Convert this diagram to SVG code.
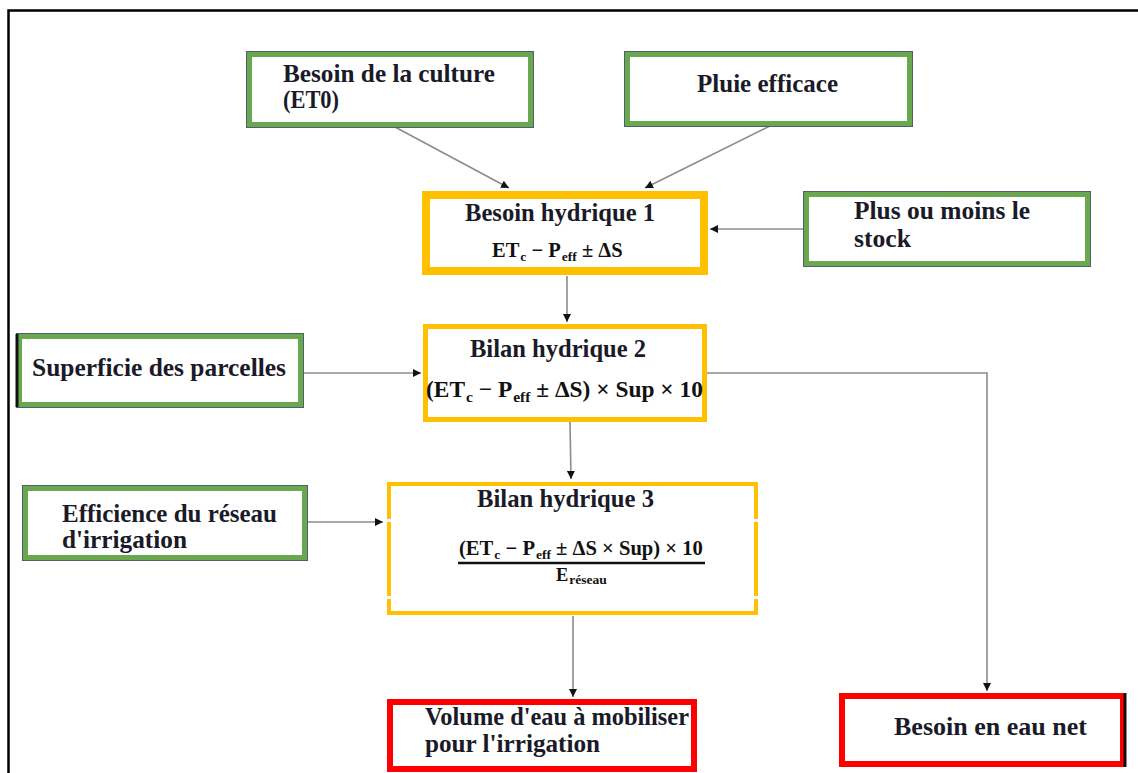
<svg xmlns="http://www.w3.org/2000/svg" width="1138" height="773" viewBox="0 0 1138 773">
<style>
.bg{fill:#ffffff}
.frame{fill:none;stroke:#000;stroke-width:2.5}
.green{fill:#fff;stroke:#6aa84f;stroke-width:5}
.gedge{fill:none;stroke:#4f5f6f;stroke-width:1}
.yellow{fill:#fff;stroke:#ffc000}
.red{fill:#fff;stroke:#ff0000}
.lbl{font-family:'Liberation Serif','Times New Roman',serif;font-weight:bold;font-size:25px;fill:#1a1a28}
.math{font-family:'Liberation Serif','Times New Roman',serif;font-weight:bold;fill:#111}
.conn{fill:none;stroke:#8c8c8c;stroke-width:1.6}
</style>
<defs>
<marker id="arr" markerUnits="userSpaceOnUse" markerWidth="10" markerHeight="10" refX="8" refY="4" orient="auto">
<path d="M0,0 L8,4 L0,8 Z" fill="#111"/>
</marker>
</defs>
<rect class="bg" x="0" y="0" width="1138" height="773"/>
<path class="frame" d="M8.5,773 V10.5 H1138"/>

<g id="connectors">
<line class="conn" x1="395" y1="127" x2="509" y2="188" marker-end="url(#arr)"/>
<line class="conn" x1="770" y1="126" x2="645" y2="188" marker-end="url(#arr)"/>
<line class="conn" x1="804" y1="229" x2="710" y2="229" marker-end="url(#arr)"/>
<line class="conn" x1="567" y1="276" x2="567" y2="322" marker-end="url(#arr)"/>
<line class="conn" x1="303" y1="373" x2="421" y2="373" marker-end="url(#arr)"/>
<path class="conn" d="M707,373 H987 V691" marker-end="url(#arr)"/>
<line class="conn" x1="570" y1="422" x2="571" y2="479" marker-end="url(#arr)"/>
<line class="conn" x1="307" y1="522" x2="383" y2="522" marker-end="url(#arr)"/>
<line class="conn" x1="573" y1="616" x2="573" y2="697" marker-end="url(#arr)"/>
</g>

<g id="besoin-culture">
<rect class="green" x="249.5" y="54.5" width="281" height="70"/>
<rect class="gedge" x="246.5" y="51.5" width="287" height="76"/>
<text class="lbl" x="283" y="82" textLength="212" lengthAdjust="spacingAndGlyphs">Besoin de la culture</text>
<text class="lbl" x="283" y="108" textLength="56" lengthAdjust="spacingAndGlyphs">(ET0)</text>
</g>

<g id="pluie-efficace">
<rect class="green" x="627.5" y="54.5" width="282" height="69"/>
<rect class="gedge" x="624.5" y="51.5" width="288" height="75"/>
<text class="lbl" x="697" y="92" textLength="141" lengthAdjust="spacingAndGlyphs">Pluie efficace</text>
</g>

<g id="besoin-hydrique-1">
<rect class="yellow" x="426" y="195" width="278" height="76" stroke-width="8"/>
<text class="lbl" x="465" y="221" textLength="190" lengthAdjust="spacingAndGlyphs">Besoin hydrique 1</text>
<text class="math" x="492" y="257" font-size="20.5">ET<tspan font-size="13.5" dx="1" dy="4">c</tspan><tspan dy="-4"> − P</tspan><tspan font-size="13.5" dx="1" dy="4">eff</tspan><tspan dy="-4"> ±  ΔS</tspan></text>
</g>

<g id="plus-ou-moins">
<rect class="green" x="806.5" y="194.5" width="281" height="69"/>
<rect class="gedge" x="803.5" y="191.5" width="287" height="75"/>
<text class="lbl" x="854" y="219" textLength="176" lengthAdjust="spacingAndGlyphs">Plus ou moins le</text>
<text class="lbl" x="854" y="247" textLength="57" lengthAdjust="spacingAndGlyphs">stock</text>
</g>

<g id="superficie">
<rect class="green" x="19.5" y="336.5" width="281" height="68"/>
<rect class="gedge" x="16.5" y="333.5" width="287" height="74"/>
<line x1="17" y1="334" x2="17" y2="407" stroke="#111" stroke-width="3"/>
<text class="lbl" x="32" y="376" textLength="254" lengthAdjust="spacingAndGlyphs">Superficie des parcelles</text>
</g>

<g id="bilan-hydrique-2">
<rect class="yellow" x="425.5" y="326.5" width="279" height="93" stroke-width="5"/>
<text class="lbl" x="470" y="357" textLength="176" lengthAdjust="spacingAndGlyphs">Bilan hydrique 2</text>
<text class="math" x="426" y="397" font-size="23.4">(ET<tspan font-size="15.5" dx="1" dy="5">c</tspan><tspan dy="-5"> −  P</tspan><tspan font-size="15.5" dx="1" dy="5">eff</tspan><tspan dy="-5"> ±  ΔS) × Sup × 10</tspan></text>
</g>

<g id="efficience">
<rect class="green" x="25.5" y="488.5" width="279" height="69"/>
<rect class="gedge" x="22.5" y="485.5" width="285" height="75"/>
<text class="lbl" x="62" y="522" textLength="215" lengthAdjust="spacingAndGlyphs">Efficience du réseau</text>
<text class="lbl" x="62" y="548" textLength="125" lengthAdjust="spacingAndGlyphs">d'irrigation</text>
</g>

<g id="bilan-hydrique-3">
<rect class="yellow" x="389" y="484" width="367" height="129" stroke-width="4"/>
<rect x="385" y="519" width="6" height="3" fill="#fff"/>
<rect x="754" y="519" width="6" height="3" fill="#fff"/>
<rect x="385" y="596" width="6" height="3" fill="#fff"/>
<rect x="754" y="596" width="6" height="3" fill="#fff"/>
<text class="lbl" x="477" y="507" textLength="177" lengthAdjust="spacingAndGlyphs">Bilan hydrique 3</text>
<text class="math" x="459" y="555" font-size="20.6">(ET<tspan font-size="13.5" dx="1" dy="4">c</tspan><tspan dy="-4"> − P</tspan><tspan font-size="13.5" dx="1" dy="4">eff</tspan><tspan dy="-4"> ± ΔS  ×  Sup) × 10</tspan></text>
<line x1="458" y1="563" x2="705" y2="563" stroke="#111" stroke-width="2.5"/>
<text class="math" x="556" y="581" font-size="18.5">E<tspan font-size="13.5" dx="1" dy="3">réseau</tspan></text>
</g>

<g id="volume-eau">
<rect class="red" x="390" y="702" width="304" height="67" stroke-width="6"/>
<text class="lbl" x="425" y="725" textLength="264" lengthAdjust="spacingAndGlyphs">Volume d'eau à mobiliser</text>
<text class="lbl" x="425" y="752" textLength="175" lengthAdjust="spacingAndGlyphs">pour l'irrigation</text>
</g>

<g id="besoin-eau-net">
<rect class="red" x="842" y="696" width="281" height="68" stroke-width="6"/>
<line x1="1125" y1="693" x2="1125" y2="767" stroke="#111" stroke-width="3"/>
<text class="lbl" x="894" y="735" textLength="193" lengthAdjust="spacingAndGlyphs">Besoin en eau net</text>
</g>
</svg>
